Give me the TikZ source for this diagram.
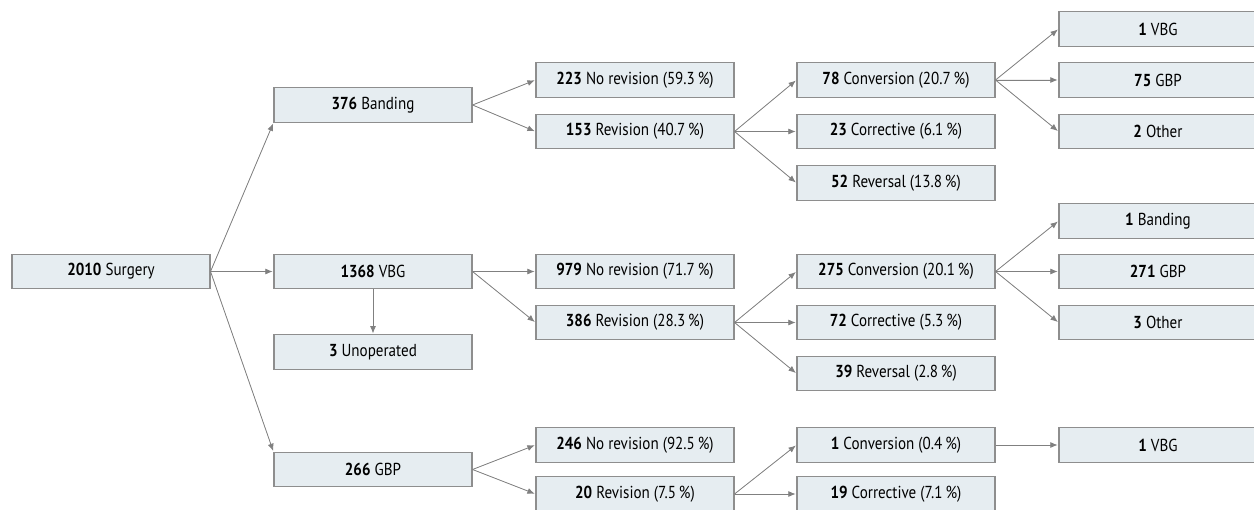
\documentclass[tikz,border=0pt]{standalone}
\usepackage{fontspec}
\setmainfont{PT Sans}[FakeStretch=0.87]
\usetikzlibrary{arrows.meta}
\definecolor{boxfill}{HTML}{E6EDF1}
\definecolor{boxline}{HTML}{8E8E8E}
\definecolor{arrowgray}{HTML}{808080}

\begin{document}
\begin{tikzpicture}[x=0.75pt, y=-0.75pt, >={Latex[length=5.5pt, width=4.5pt]},
  font=\fontsize{13}{15}\selectfont,
  box/.style={draw=boxline, fill=boxfill, line width=0.8pt, minimum width=148.5pt, minimum height=25.8pt, inner sep=0pt},
  arr/.style={->, draw=arrowgray, fill=arrowgray, line width=0.6pt, shorten >=0.6pt}]
\useasboundingbox (0,0) rectangle (1254,510);
% first two levels
\node[box] (surgery) at (111,271.5) {\textbf{2010}\ Surgery};
\node[box] (band) at (373,105) {\textbf{376}\ Banding};
\node[box] (vbg) at (373,271.5) {\textbf{1368}\ VBG};
\node[box] (unop) at (373,352) {\textbf{3}\ Unoperated};
\node[box] (gbp) at (373,469.5) {\textbf{266}\ GBP};
% revision or not
\node[box] (bandnorev) at (635,80) {\textbf{223}\ No revision (59.3\,\%)};
\node[box] (bandrev) at (635,131.5) {\textbf{153}\ Revision (40.7\,\%)};
\node[box] (vbgnorev) at (635,271.5) {\textbf{979}\ No revision (71.7\,\%)};
\node[box] (vbgrev) at (635,322.5) {\textbf{386}\ Revision (28.3\,\%)};
\node[box] (gbpnorev) at (635,445) {\textbf{246}\ No revision (92.5\,\%)};
\node[box] (gbprev) at (635,494) {\textbf{20}\ Revision (7.5\,\%)};
% kind of revision
\node[box] (bandconv) at (896,80) {\textbf{78}\ Conversion (20.7\,\%)};
\node[box] (bandcorr) at (896,131.5) {\textbf{23}\ Corrective (6.1\,\%)};
\node[box] (bandrevs) at (896,183) {\textbf{52}\ Reversal (13.8\,\%)};
\node[box] (vbgconv) at (896,271.5) {\textbf{275}\ Conversion (20.1\,\%)};
\node[box] (vbgcorr) at (896,322.5) {\textbf{72}\ Corrective (5.3\,\%)};
\node[box] (vbgrevs) at (896,373.5) {\textbf{39}\ Reversal (2.8\,\%)};
\node[box] (gbpconv) at (896,445) {\textbf{1}\ Conversion (0.4\,\%)};
\node[box] (gbpcorr) at (896,494) {\textbf{19}\ Corrective (7.1\,\%)};
% converted to
\node[box] (bandtovbg) at (1158,29) {\textbf{1}\ VBG};
\node[box] (bandtogbp) at (1158,80) {\textbf{75}\ GBP};
\node[box] (bandtooth) at (1158,131.5) {\textbf{2}\ Other};
\node[box] (vbgtoband) at (1158,221) {\textbf{1}\ Banding};
\node[box] (vbgtogbp) at (1158,271.5) {\textbf{271}\ GBP};
\node[box] (vbgtooth) at (1158,322.5) {\textbf{3}\ Other};
\node[box] (gbptovbg) at (1158,445) {\textbf{1}\ VBG};
% arrows
\draw[arr] (surgery.east) -- (band.south west);
\draw[arr] (surgery.east) -- (vbg.west);
\draw[arr] (surgery.east) -- (gbp.north west);
\draw[arr] (vbg.south) -- (unop.north);
\foreach \src/\dst in {band/bandnorev, band/bandrev, vbg/vbgnorev, vbg/vbgrev, gbp/gbpnorev, gbp/gbprev,
  bandrev/bandconv, bandrev/bandcorr, bandrev/bandrevs, vbgrev/vbgconv, vbgrev/vbgcorr, vbgrev/vbgrevs,
  gbprev/gbpconv, gbprev/gbpcorr, bandconv/bandtovbg, bandconv/bandtogbp, bandconv/bandtooth,
  vbgconv/vbgtoband, vbgconv/vbgtogbp, vbgconv/vbgtooth, gbpconv/gbptovbg}
  \draw[arr] (\src.east) -- (\dst.west);
\end{tikzpicture}
\end{document}
